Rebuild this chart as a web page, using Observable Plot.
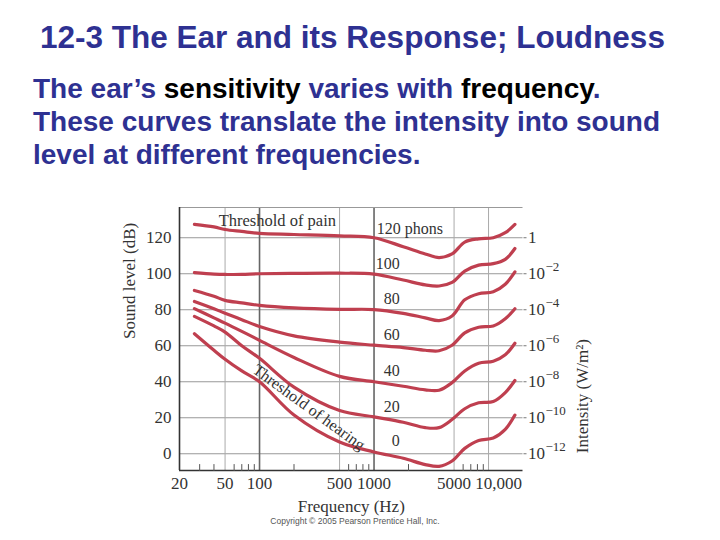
<!DOCTYPE html>
<html>
<head>
<meta charset="utf-8">
<script src="https://cdn.jsdelivr.net/npm/d3@7"></script>
<script src="https://cdn.jsdelivr.net/npm/@observablehq/plot@0.6"></script>
<style>
  html, body { margin: 0; padding: 0; background: #fff; }
  body { width: 720px; height: 540px; position: relative; overflow: hidden; font-family: "Liberation Sans", Arial, sans-serif; }
  #title { position: absolute; left: 40px; top: 19px; font-size: 31.5px; line-height: 36px; font-weight: bold; color: #2e3192; white-space: nowrap; }
  #subtitle { position: absolute; left: 33px; top: 72px; font-size: 28px; line-height: 33px; font-weight: bold; color: #2e3192; white-space: nowrap; }
  #subtitle .k { color: #000; }
  #chart { position: absolute; left: 0; top: 180px; }
  #copy { position: absolute; left: 0; width: 710px; top: 516px; text-align: center; font-size: 8.5px; color: #555; font-family: "Liberation Sans", Arial, sans-serif; }
</style>
</head>
<body>
<div id="title">12-3 The Ear and its Response; Loudness</div>
<div id="subtitle">The ear’s <span class="k">sensitivity</span> varies with <span class="k">frequency</span>.<br>These curves translate the intensity into sound<br>level at different frequencies.</div>
<div id="chart"></div>
<div id="copy">Copyright © 2005 Pearson Prentice Hall, Inc.</div>
<script>
// ---- data ----
const freqs   = [27, 40, 50, 70, 100, 200, 500, 1000, 1800, 2800, 3700, 4800, 6200, 8200, 11000, 14000, 17000];
const phon120 = [127.4, 126, 124.6, 123.5, 122.4, 121.8, 121, 120, 115, 111, 109, 111, 117.6, 119.4, 120, 122.8, 127.4];
const phon100 = [100.6, 99.8, 99.6, 99.7, 100, 100.2, 100.3, 99.8, 96.5, 93.8, 93.2, 95.2, 101.5, 104.8, 105.6, 108, 114];
const phon80  = [90.7, 87.5, 85.2, 83.8, 82.4, 81, 80.2, 80.1, 78, 75.5, 74, 76.5, 85.5, 88.9, 90, 94.2, 101];
const phon60  = [84.6, 80.5, 78.1, 74.5, 70.7, 65.5, 62, 60.3, 59, 57.5, 57.2, 60.3, 67.2, 70.3, 71, 75, 80.6];
const phon40  = [80.6, 75.5, 72.6, 68, 63, 53.5, 43, 40, 37.5, 35.5, 35.3, 39.5, 46, 50.3, 51.4, 55, 61.4];
const phon20  = [76.3, 71, 67.6, 60, 53, 37, 24, 20.5, 17.5, 14.5, 14.5, 19, 25, 28.3, 29, 34, 40.7];
const phon0   = [66.7, 57.5, 52.5, 46, 40, 21.5, 6.5, 1, -2.5, -6, -7, -4, 3, 7.4, 8.7, 13.5, 21.5];
const phonLevels = [120, 100, 80, 60, 40, 20, 0];
const phonSeries = [phon120, phon100, phon80, phon60, phon40, phon20, phon0];

const phonLabelText = ["120 phons", "100", "80", "60", "40", "20", "0"];
const phonLabelFreq = [1055, 1680, 1680, 1680, 1680, 1680, 1680];
const phonLabelDb   = [125.2, 105.7, 86.3, 66.3, 45.9, 26.3, 7.4];

const dbTicks = [0, 20, 40, 60, 80, 100, 120];
const dbTickLabels = ["0", "20", "40", "60", "80", "100", "120"];
const intensityDb = [120, 100, 80, 60, 40, 20, 0];
const intensityBase = ["1", "10", "10", "10", "10", "10", "10"];
const intensityExp  = ["", "−2", "−4", "−6", "−8", "−10", "−12"];

const xTicks = [20, 50, 100, 500, 1000, 5000];
const xTickLabels = ["20", "50", "100", "500", "1000", "5000"];
const xTickLast = [10000];
const xTickLastLabel = ["10,000"];
const gridLight = [50, 500, 5000, 10000];
const gridDark = [100, 1000];
const minorTicks = [30, 40, 60, 70, 80, 90, 200, 600, 700, 800, 900, 2000, 6000, 7000, 8000, 9000];

const notes = ["Threshold of pain"];
const notesFreq = [44];
const notesDb = [129.6];
const hearingNote = ["Threshold of hearing"];
const hearingFreq = [270];
const hearingDb = [25.8];

const xDomain = [20, 20000];
const yDomain = [-9.3, 136.8];

// long table for curves
const table = [];
phonSeries.forEach((vals, s) => vals.forEach((v, i) => table.push({phon: phonLevels[s], f: freqs[i], db: v})));

const serif = '"Liberation Serif", "Times New Roman", serif';
const curveColor = "#bf3f4f";
const tickLine = {draw(ctx, l) { ctx.moveTo(0, 0); ctx.lineTo(0, -l); }};

const chart = Plot.plot({
  width: 720,
  height: 360,
  marginTop: 27,
  marginBottom: 70,
  marginLeft: 179,
  marginRight: 197.5,
  style: {fontFamily: serif, fontSize: "17px", color: "#333", background: "transparent", overflow: "visible"},
  x: {type: "log", domain: xDomain, label: null, axis: null},
  y: {domain: yDomain, label: null, axis: null},
  marks: [
    Plot.ruleY(dbTicks, {stroke: "#999", strokeWidth: 1}),
    Plot.ruleX(gridLight, {stroke: "#aaa", strokeWidth: 1}),
    Plot.ruleX(gridDark, {stroke: "#666", strokeWidth: 1.6}),
    Plot.ruleY([yDomain[1]], {stroke: "#999", strokeWidth: 1}),
    Plot.ruleX([xDomain[0]], {stroke: "#333", strokeWidth: 1.6}),
    Plot.ruleY([yDomain[0]], {stroke: "#333", strokeWidth: 1.6}),
    Plot.vector(minorTicks, {x: d => d, frameAnchor: "bottom", length: 6, anchor: "start", shape: tickLine, stroke: "#555", strokeWidth: 1}),
    Plot.line(table, {x: "f", y: "db", z: "phon", stroke: curveColor, strokeWidth: 3.2, curve: "catmull-rom", strokeLinecap: "round"}),
    Plot.axisY(dbTicks, {anchor: "left", tickSize: 0, tickPadding: 8, fontSize: 17, label: null,
      tickFormat: d => dbTickLabels[dbTicks.indexOf(d)]}),
    Plot.axisY(intensityDb, {anchor: "right", tickSize: 3, tickPadding: 2, fontSize: 17, label: null, stroke: "#777",
      tickFormat: d => intensityBase[intensityDb.indexOf(d)]}),
    Plot.text(intensityDb, {y: d => d, text: d => intensityExp[intensityDb.indexOf(d)], frameAnchor: "right",
      dx: 22.5, dy: -7, textAnchor: "start", fontSize: 13, fill: "#333"}),
    Plot.text(xTicks, {x: d => d, text: d => xTickLabels[xTicks.indexOf(d)], frameAnchor: "bottom",
      dy: 13, lineAnchor: "middle", fontSize: 17, fill: "#333"}),
    Plot.text(xTickLast, {x: d => d, text: d => xTickLastLabel[xTickLast.indexOf(d)], frameAnchor: "bottom",
      dy: 13, dx: 10, lineAnchor: "middle", fontSize: 17, fill: "#333"}),
    Plot.text(["Sound level (dB)"], {frameAnchor: "left", dx: -50, rotate: -90, fontSize: 17, fill: "#333"}),
    Plot.text(["Intensity (W/m²)"], {frameAnchor: "right", dx: 60, rotate: -90, fontSize: 17, fill: "#333"}),
    Plot.text(["Frequency (Hz)"], {frameAnchor: "bottom", dy: 36, lineAnchor: "middle", fontSize: 17, fill: "#333"}),
    Plot.text(d3.range(1), {x: i => phonLabelFreq[i], y: i => phonLabelDb[i], text: i => phonLabelText[i], textAnchor: "start", fontSize: 16, fill: "#333"}),
    Plot.text(d3.range(1, phonLabelText.length), {x: i => phonLabelFreq[i], y: i => phonLabelDb[i], text: i => phonLabelText[i], textAnchor: "end", fontSize: 16, fill: "#333"}),
    Plot.text(notes, {x: (d, i) => notesFreq[i], y: (d, i) => notesDb[i], text: d => d, textAnchor: "start", fontSize: 16.5, fill: "#333"}),
    Plot.text(hearingNote, {x: (d, i) => hearingFreq[i], y: (d, i) => hearingDb[i], text: d => d, rotate: 36, fontSize: 16, fill: "#333"})
  ]
});
document.getElementById("chart").appendChild(chart);
</script>
</body>
</html>
